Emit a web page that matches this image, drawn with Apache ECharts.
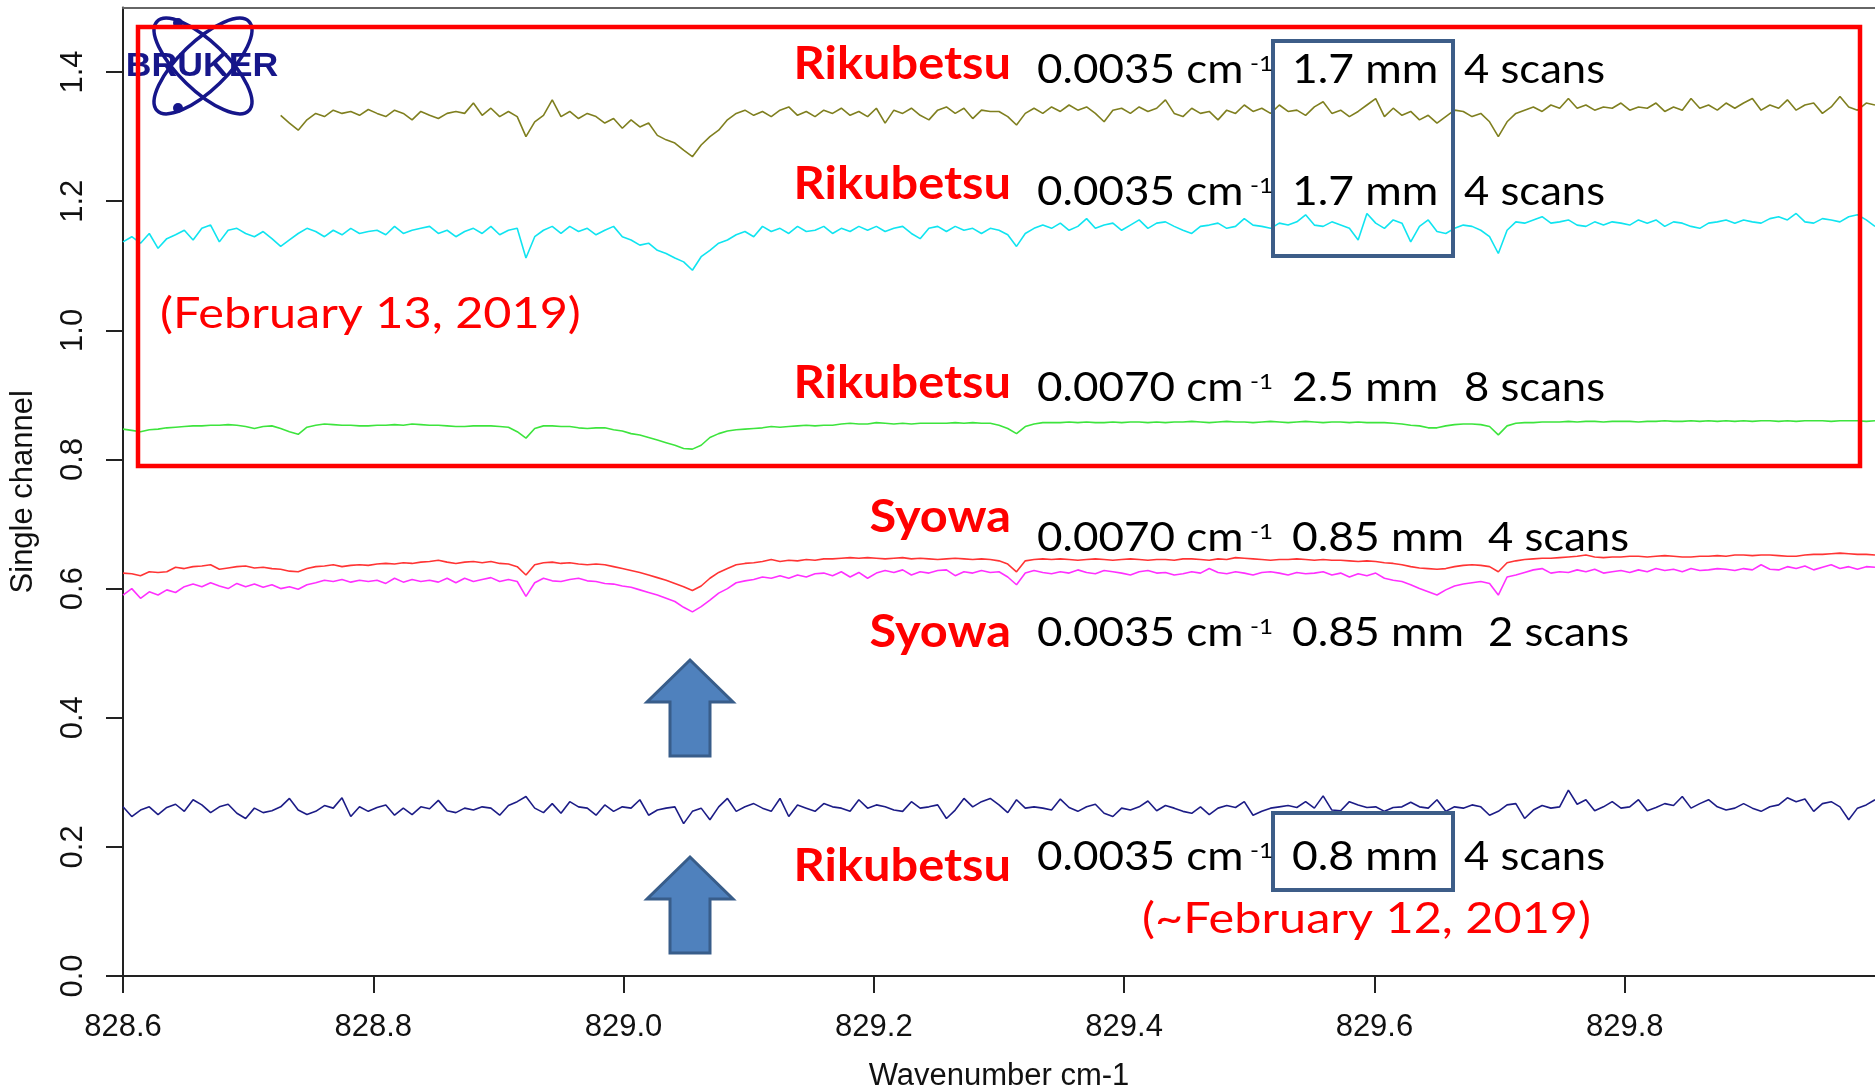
<!DOCTYPE html>
<html>
<head>
<meta charset="utf-8">
<title>Single channel spectra</title>
<script src="https://cdn.jsdelivr.net/npm/echarts@6/dist/echarts.min.js"></script>
<style>
  html, body { margin: 0; padding: 0; background: #fff; }
  #chart { width: 1875px; height: 1086px; }
</style>
</head>
<body>
<div id="chart"></div>
<script>
// sampling grid of the spectra (cm-1)
const waveStart = 828.6
const waveStep = 0.007

const xTicks = [828.6, 828.8, 829.0, 829.2, 829.4, 829.6, 829.8]
const yTicks = [0.0, 0.2, 0.4, 0.6, 0.8, 1.0, 1.2, 1.4]

// Rikubetsu 0.0035 cm-1, 1.7 mm, 4 scans (start hidden behind the logo)
const olive = [
  null, null, null, null, null, null, null, null, null, null,
  null, null, null, null, null, null, null, null,
  1.333, 1.321, 1.310, 1.326, 1.336, 1.331, 1.341, 1.336, 1.339, 1.333,
  1.342, 1.336, 1.331, 1.341, 1.336, 1.326, 1.339, 1.333, 1.328, 1.336,
  1.339, 1.336, 1.352, 1.333, 1.344, 1.331, 1.339, 1.331, 1.300, 1.323,
  1.333, 1.357, 1.331, 1.339, 1.328, 1.336, 1.331, 1.321, 1.328, 1.313,
  1.326, 1.315, 1.321, 1.302, 1.295, 1.290, 1.279, 1.269, 1.287, 1.300,
  1.310, 1.326, 1.336, 1.341, 1.333, 1.339, 1.331, 1.341, 1.346, 1.333,
  1.339, 1.331, 1.341, 1.336, 1.344, 1.333, 1.339, 1.331, 1.344, 1.321,
  1.341, 1.336, 1.344, 1.333, 1.326, 1.341, 1.346, 1.336, 1.344, 1.328,
  1.341, 1.339,
  1.339, 1.331, 1.318, 1.336, 1.344, 1.336, 1.346, 1.339, 1.349, 1.341,
  1.346, 1.336, 1.323, 1.341, 1.344, 1.336, 1.346, 1.339, 1.344, 1.357,
  1.336, 1.331, 1.344, 1.336, 1.339, 1.326, 1.341, 1.336, 1.349, 1.339,
  1.344, 1.336, 1.349, 1.339, 1.341, 1.333, 1.346, 1.354, 1.336, 1.341,
  1.331, 1.339, 1.349, 1.359, 1.331, 1.344, 1.333, 1.339, 1.326, 1.333,
  1.321, 1.331, 1.341, 1.339, 1.331, 1.336, 1.323, 1.300, 1.323, 1.336,
  1.341, 1.346, 1.339, 1.349, 1.344, 1.359, 1.344, 1.349, 1.341, 1.346,
  1.344, 1.352, 1.341, 1.346, 1.344, 1.352, 1.339, 1.346, 1.341, 1.359,
  1.344, 1.349, 1.341, 1.352, 1.344, 1.352, 1.359, 1.341, 1.349, 1.344,
  1.357, 1.341, 1.349, 1.352, 1.336, 1.346, 1.362, 1.346, 1.341, 1.352,
  1.349
]

// Rikubetsu 0.0035 cm-1, 1.7 mm, 4 scans
const cyan = [
  1.137, 1.145, 1.135, 1.150, 1.127, 1.142, 1.148, 1.155, 1.140, 1.158,
  1.163, 1.137, 1.155, 1.158, 1.150, 1.145, 1.153, 1.142, 1.130, 1.140,
  1.150, 1.158, 1.153, 1.145, 1.155, 1.148, 1.158, 1.150, 1.153, 1.155,
  1.148, 1.161, 1.150, 1.155, 1.158, 1.161, 1.150, 1.155, 1.145, 1.153,
  1.158, 1.150, 1.161, 1.148, 1.155, 1.158, 1.112, 1.145, 1.155, 1.161,
  1.150, 1.161, 1.153, 1.158, 1.148, 1.155, 1.161, 1.145, 1.140, 1.132,
  1.135, 1.124, 1.119, 1.112, 1.106, 1.093, 1.114, 1.124, 1.135, 1.140,
  1.148, 1.153, 1.145, 1.161, 1.153, 1.158, 1.150, 1.161, 1.153, 1.155,
  1.161, 1.150, 1.158, 1.153, 1.161, 1.155, 1.161, 1.153, 1.158, 1.161,
  1.150, 1.142, 1.158, 1.161, 1.153, 1.161, 1.155, 1.158, 1.150, 1.158,
  1.155, 1.148, 1.130, 1.150, 1.158, 1.163, 1.158, 1.166, 1.155, 1.161,
  1.173, 1.158, 1.163, 1.166, 1.155, 1.163, 1.171, 1.158, 1.166, 1.168,
  1.161, 1.155, 1.150, 1.161, 1.163, 1.166, 1.158, 1.161, 1.173, 1.163,
  1.161, 1.158, 1.166, 1.163, 1.168, 1.179, 1.163, 1.161, 1.168, 1.163,
  1.158, 1.140, 1.181, 1.166, 1.158, 1.171, 1.166, 1.137, 1.161, 1.171,
  1.153, 1.150, 1.158, 1.163, 1.161, 1.155, 1.145, 1.119, 1.155, 1.168,
  1.166, 1.171, 1.176, 1.166, 1.168, 1.171, 1.163, 1.161, 1.168, 1.163,
  1.168, 1.166, 1.163, 1.171, 1.166, 1.171, 1.161, 1.168, 1.166, 1.161,
  1.158, 1.166, 1.168, 1.171, 1.166, 1.171, 1.168, 1.166, 1.173, 1.176,
  1.171, 1.181, 1.168, 1.166, 1.173, 1.171, 1.168, 1.176, 1.179, 1.171,
  1.161
]

// Rikubetsu 0.0070 cm-1, 2.5 mm, 8 scans
const green = [
  0.847, 0.845, 0.843, 0.846, 0.847, 0.849, 0.850, 0.851, 0.852, 0.852,
  0.853, 0.853, 0.854, 0.853, 0.851, 0.848, 0.851, 0.852, 0.848, 0.843,
  0.839, 0.850, 0.853, 0.855, 0.854, 0.853, 0.853, 0.852, 0.852, 0.853,
  0.853, 0.854, 0.853, 0.855, 0.854, 0.853, 0.853, 0.852, 0.851, 0.851,
  0.852, 0.852, 0.852, 0.851, 0.850, 0.843, 0.833, 0.848, 0.852, 0.852,
  0.851, 0.851, 0.849, 0.848, 0.849, 0.849, 0.846, 0.844, 0.840, 0.838,
  0.834, 0.830, 0.826, 0.822, 0.817, 0.816, 0.822, 0.834, 0.840, 0.844,
  0.846, 0.847, 0.848, 0.849, 0.851, 0.850, 0.851, 0.852, 0.853, 0.852,
  0.853, 0.853, 0.855, 0.856, 0.855, 0.855, 0.857, 0.856, 0.855, 0.856,
  0.855, 0.856, 0.856, 0.856, 0.856, 0.857, 0.856, 0.857, 0.856, 0.856,
  0.853, 0.848, 0.840, 0.851, 0.855, 0.857, 0.857, 0.857, 0.858, 0.857,
  0.858, 0.857, 0.857, 0.858, 0.857, 0.858, 0.858, 0.857, 0.858, 0.857,
  0.858, 0.858, 0.859, 0.858, 0.857, 0.858, 0.859, 0.858, 0.858, 0.857,
  0.858, 0.859, 0.858, 0.857, 0.858, 0.859, 0.858, 0.857, 0.858, 0.858,
  0.857, 0.858, 0.857, 0.857, 0.857, 0.856, 0.855, 0.853, 0.852, 0.849,
  0.849, 0.852, 0.854, 0.855, 0.855, 0.854, 0.851, 0.838, 0.852, 0.856,
  0.857, 0.857, 0.858, 0.858, 0.858, 0.859, 0.858, 0.859, 0.859, 0.858,
  0.859, 0.859, 0.859, 0.858, 0.859, 0.859, 0.860, 0.859, 0.859, 0.860,
  0.859, 0.860, 0.859, 0.860, 0.859, 0.860, 0.859, 0.860, 0.860, 0.859,
  0.860, 0.859, 0.860, 0.860, 0.860, 0.859, 0.860, 0.860, 0.860, 0.859,
  0.860
]

// Syowa 0.0070 cm-1, 0.85 mm, 4 scans
const red = [
  0.624, 0.623, 0.620, 0.626, 0.625, 0.626, 0.633, 0.631, 0.634, 0.635,
  0.637, 0.630, 0.632, 0.634, 0.635, 0.632, 0.633, 0.631, 0.630, 0.627,
  0.626, 0.631, 0.634, 0.635, 0.637, 0.634, 0.636, 0.637, 0.636, 0.638,
  0.639, 0.638, 0.640, 0.639, 0.641, 0.642, 0.644, 0.641, 0.639, 0.641,
  0.642, 0.640, 0.642, 0.639, 0.638, 0.634, 0.621, 0.637, 0.640, 0.641,
  0.639, 0.640, 0.638, 0.637, 0.638, 0.637, 0.634, 0.631, 0.628, 0.625,
  0.621, 0.617, 0.613, 0.608, 0.603, 0.597, 0.604, 0.616, 0.625, 0.631,
  0.637, 0.639, 0.640, 0.642, 0.645, 0.642, 0.644, 0.643, 0.645, 0.644,
  0.646, 0.646, 0.647, 0.648, 0.647, 0.648, 0.647, 0.646, 0.647, 0.648,
  0.646, 0.647, 0.646, 0.645, 0.646, 0.647, 0.646, 0.645, 0.646, 0.645,
  0.643, 0.638, 0.626, 0.643, 0.645, 0.646, 0.645, 0.646, 0.645, 0.644,
  0.645, 0.646, 0.645, 0.644, 0.645, 0.646, 0.645, 0.644, 0.645, 0.645,
  0.644, 0.646, 0.646, 0.645, 0.644, 0.646, 0.645, 0.648, 0.647, 0.646,
  0.645, 0.644, 0.645, 0.645, 0.646, 0.645, 0.644, 0.645, 0.644, 0.644,
  0.643, 0.642, 0.643, 0.642, 0.640, 0.639, 0.637, 0.634, 0.632, 0.631,
  0.630, 0.631, 0.634, 0.636, 0.637, 0.636, 0.634, 0.626, 0.640, 0.643,
  0.645, 0.646, 0.647, 0.647, 0.648, 0.649, 0.650, 0.652, 0.649, 0.648,
  0.649, 0.649, 0.650, 0.650, 0.649, 0.650, 0.651, 0.650, 0.649, 0.649,
  0.650, 0.650, 0.651, 0.650, 0.652, 0.652, 0.651, 0.652, 0.652, 0.651,
  0.650, 0.650, 0.652, 0.653, 0.653, 0.654, 0.655, 0.654, 0.653, 0.653,
  0.652
]

// Syowa 0.0035 cm-1, 0.85 mm, 2 scans
const magenta = [
  0.590, 0.600, 0.585, 0.595, 0.590, 0.598, 0.594, 0.603, 0.607, 0.603,
  0.609, 0.604, 0.600, 0.608, 0.603, 0.607, 0.602, 0.606, 0.600, 0.603,
  0.599, 0.606, 0.609, 0.613, 0.611, 0.614, 0.610, 0.613, 0.611, 0.613,
  0.608, 0.616, 0.610, 0.614, 0.611, 0.613, 0.610, 0.616, 0.609, 0.616,
  0.611, 0.614, 0.617, 0.611, 0.614, 0.611, 0.588, 0.609, 0.616, 0.612,
  0.611, 0.614, 0.616, 0.612, 0.611, 0.608, 0.607, 0.604, 0.602, 0.598,
  0.594, 0.590, 0.585, 0.580, 0.571, 0.564, 0.572, 0.582, 0.593, 0.600,
  0.609, 0.612, 0.614, 0.618, 0.616, 0.620, 0.616, 0.621, 0.618, 0.623,
  0.624, 0.620, 0.626, 0.618, 0.625, 0.616, 0.624, 0.628, 0.625, 0.629,
  0.621, 0.626, 0.624, 0.628, 0.629, 0.620, 0.626, 0.624, 0.628, 0.625,
  0.626, 0.618, 0.606, 0.624, 0.628, 0.625, 0.623, 0.626, 0.624, 0.629,
  0.625, 0.623, 0.628, 0.626, 0.624, 0.621, 0.626, 0.628, 0.624, 0.625,
  0.621, 0.623, 0.626, 0.624, 0.631, 0.625, 0.623, 0.626, 0.624, 0.621,
  0.625, 0.626, 0.624, 0.621, 0.625, 0.623, 0.624, 0.626, 0.621, 0.624,
  0.618, 0.623, 0.620, 0.624, 0.616, 0.613, 0.611, 0.606, 0.600, 0.595,
  0.590, 0.598, 0.604, 0.607, 0.609, 0.611, 0.608, 0.590, 0.618, 0.621,
  0.625, 0.629, 0.631, 0.624, 0.626, 0.625, 0.629, 0.626, 0.630, 0.624,
  0.626, 0.628, 0.625, 0.629, 0.626, 0.631, 0.628, 0.630, 0.626, 0.631,
  0.628, 0.629, 0.631, 0.630, 0.628, 0.631, 0.629, 0.637, 0.630, 0.629,
  0.634, 0.631, 0.635, 0.629, 0.633, 0.637, 0.631, 0.634, 0.630, 0.634,
  0.633
]

// Rikubetsu 0.0035 cm-1, 0.8 mm, 4 scans (~February 12, 2019)
const navy = [
  0.262, 0.247, 0.257, 0.262, 0.250, 0.261, 0.266, 0.255, 0.273, 0.265,
  0.253, 0.262, 0.266, 0.252, 0.244, 0.260, 0.253, 0.256, 0.262, 0.275,
  0.257, 0.250, 0.255, 0.264, 0.260, 0.276, 0.247, 0.262, 0.255, 0.261,
  0.265, 0.249, 0.260, 0.250, 0.262, 0.259, 0.272, 0.256, 0.253, 0.260,
  0.257, 0.262, 0.260, 0.249, 0.264, 0.270, 0.278, 0.260, 0.253, 0.267,
  0.252, 0.270, 0.262, 0.260, 0.249, 0.265, 0.255, 0.262, 0.260, 0.273,
  0.249, 0.257, 0.260, 0.262, 0.236, 0.255, 0.260, 0.242, 0.262, 0.275,
  0.255, 0.262, 0.267, 0.260, 0.255, 0.275, 0.247, 0.265, 0.260, 0.255,
  0.267, 0.262, 0.260, 0.255, 0.273, 0.260, 0.265, 0.262, 0.257, 0.255,
  0.270, 0.260, 0.262, 0.265, 0.244, 0.257, 0.275, 0.262, 0.270, 0.275,
  0.265, 0.253, 0.273, 0.260, 0.262, 0.260, 0.257, 0.274, 0.261, 0.255,
  0.262, 0.266, 0.252, 0.247, 0.260, 0.257, 0.262, 0.271, 0.256, 0.264,
  0.260, 0.255, 0.252, 0.262, 0.250, 0.260, 0.264, 0.261, 0.270, 0.249,
  0.255, 0.260, 0.262, 0.264, 0.261, 0.270, 0.260, 0.279, 0.257, 0.256,
  0.270, 0.265, 0.261, 0.262, 0.255, 0.261, 0.262, 0.269, 0.262, 0.260,
  0.273, 0.255, 0.262, 0.260, 0.265, 0.262, 0.249, 0.255, 0.265, 0.267,
  0.244, 0.257, 0.264, 0.260, 0.262, 0.288, 0.266, 0.273, 0.256, 0.262,
  0.270, 0.260, 0.262, 0.273, 0.256, 0.261, 0.267, 0.264, 0.278, 0.260,
  0.267, 0.273, 0.262, 0.257, 0.260, 0.267, 0.260, 0.255, 0.262, 0.265,
  0.276, 0.270, 0.274, 0.255, 0.267, 0.270, 0.262, 0.242, 0.260, 0.265,
  0.273
]

const toPairs = vals => vals.map((v, i) => [+(waveStart + i * waveStep).toFixed(3), v])

const axisColor = '#222'
const axisFont = '"Liberation Sans", Arial, sans-serif'
const noteFont = 'Lato, "Open Sans", sans-serif'

const chart = echarts.init(document.getElementById('chart'))

const lineSeries = (name, vals, color) => ({
  name,
  type: 'line',
  data: toPairs(vals),
  showSymbol: false,
  silent: true,
  connectNulls: false,
  lineStyle: { color, width: 1.6 },
  itemStyle: { color }
})

// text helpers for the slide annotations (widened a bit, the slide font is stretched)
const txt = (text, x, y, size, color, opts = {}) => ({
  type: 'text',
  x, y, z: 110,
  scaleX: opts.sx || 1,
  silent: true,
  style: {
    text,
    fill: color,
    font: `${opts.weight || 'normal'} ${size}px ${noteFont}`,
    align: opts.align || 'left',
    verticalAlign: 'middle'
  }
})

const rows = [
  { site: 'Rikubetsu', siteY: 64, y: 70, res: '0.0035', ap: '1.7 mm', scans: '4 scans', scansX: 1464 },
  { site: 'Rikubetsu', siteY: 184, y: 192, res: '0.0035', ap: '1.7 mm', scans: '4 scans', scansX: 1464 },
  { site: 'Rikubetsu', siteY: 383, y: 388, res: '0.0070', ap: '2.5 mm', scans: '8 scans', scansX: 1464 },
  { site: 'Syowa', siteY: 517, y: 538, res: '0.0070', ap: '0.85 mm', scans: '4 scans', scansX: 1488 },
  { site: 'Syowa', siteY: 632, y: 633, res: '0.0035', ap: '0.85 mm', scans: '2 scans', scansX: 1488 },
  { site: 'Rikubetsu', siteY: 866, y: 857, res: '0.0035', ap: '0.8 mm', scans: '4 scans', scansX: 1464 }
]

const rowTexts = []
rows.forEach(r => {
  rowTexts.push(txt(r.site, 1011, r.siteY, 46, '#ff0000', { weight: 'bold', align: 'right', sx: 1.06 }))
  rowTexts.push(txt(r.res + ' cm', 1037, r.y, 40, '#000', { sx: 1.1 }))
  rowTexts.push(txt('-1', 1250, r.y - 6, 22, '#000', { sx: 1.1 }))
  rowTexts.push(txt(r.ap, 1292, r.y, 40, '#000', { sx: 1.11 }))
  rowTexts.push(txt(r.scans, r.scansX, r.y, 40, '#000', { sx: 1.09 }))
})

const arrow = tipY => ({
  type: 'polygon',
  z: 105,
  silent: true,
  shape: {
    points: [
      [690, tipY], [733, tipY + 42], [710, tipY + 42], [710, tipY + 96],
      [670, tipY + 96], [670, tipY + 42], [647, tipY + 42]
    ]
  },
  style: { fill: '#4f81bd', stroke: '#385d8a', lineWidth: 3 }
})

const logo = {
  type: 'group',
  z: 104,
  children: [
    { type: 'ellipse', x: 203, y: 66, rotation: 0.77, shape: { cx: 0, cy: 0, rx: 64, ry: 24 }, style: { fill: 'none', stroke: '#16168a', lineWidth: 3.5 } },
    { type: 'ellipse', x: 203, y: 66, rotation: -0.77, shape: { cx: 0, cy: 0, rx: 64, ry: 24 }, style: { fill: 'none', stroke: '#16168a', lineWidth: 3.5 } },
    { type: 'circle', shape: { cx: 178, cy: 23, r: 5 }, style: { fill: '#16168a' } },
    { type: 'circle', shape: { cx: 178, cy: 108, r: 5 }, style: { fill: '#16168a' } },
    { type: 'text', x: 202, y: 67, scaleX: 1.08, style: { text: 'BRUKER', fill: '#16168a', font: `bold 33px ${axisFont}`, align: 'center', verticalAlign: 'middle' } }
  ]
}

const option = {
  backgroundColor: '#fff',
  animation: false,
  grid: {
    left: 123,
    right: 0,
    top: 7.5,
    bottom: 110,
    containLabel: false,
    outerBoundsMode: 'none'
  },
  xAxis: [
    {
      type: 'value',
      min: 828.6,
      max: 830.0,
      axisLine: { onZero: false, lineStyle: { color: axisColor, width: 2 } },
      axisTick: { length: 17, customValues: xTicks, lineStyle: { color: axisColor, width: 2 } },
      axisLabel: {
        customValues: xTicks,
        formatter: v => v.toFixed(1),
        margin: 36,
        color: '#111',
        fontSize: 31,
        fontFamily: axisFont
      },
      splitLine: { show: false },
      name: 'Wavenumber cm-1',
      nameLocation: 'middle',
      nameGap: 85,
      nameTextStyle: { color: '#111', fontSize: 31, fontFamily: axisFont }
    },
    {
      // top frame line
      type: 'value',
      position: 'top',
      min: 828.6,
      max: 830.0,
      axisLine: { onZero: false, lineStyle: { color: '#666', width: 2 } },
      axisTick: { show: false },
      axisLabel: { show: false },
      splitLine: { show: false }
    }
  ],
  yAxis: {
    type: 'value',
    min: 0,
    max: 1.5,
    axisLine: { show: true, onZero: false, lineStyle: { color: axisColor, width: 2 } },
    axisTick: { show: true, length: 17, customValues: yTicks, lineStyle: { color: axisColor, width: 2 } },
    axisLabel: {
      customValues: yTicks,
      formatter: v => v.toFixed(1),
      rotate: 90,
      margin: 34,
      color: '#111',
      fontSize: 31,
      fontFamily: axisFont
    },
    splitLine: { show: false },
    name: 'Single channel',
    nameLocation: 'middle',
    nameRotate: 90,
    nameGap: 84,
    nameTextStyle: { color: '#111', fontSize: 31, fontFamily: axisFont }
  },
  series: [
    lineSeries('Rikubetsu 1.7 mm (a)', olive, '#7f7f1f'),
    lineSeries('Rikubetsu 1.7 mm (b)', cyan, '#10e4f0'),
    lineSeries('Rikubetsu 2.5 mm', green, '#3de43d'),
    lineSeries('Syowa 0.0070', red, '#ff3434'),
    lineSeries('Syowa 0.0035', magenta, '#ff30ff'),
    lineSeries('Rikubetsu 0.8 mm', navy, '#1c1c86')
  ],
  graphic: [
    logo,
    // date group frame
    { type: 'rect', z: 106, silent: true, shape: { x: 138, y: 27, width: 1722, height: 439 }, style: { fill: 'none', stroke: '#ff0000', lineWidth: 4.5 } },
    // aperture boxes
    { type: 'rect', z: 106, silent: true, shape: { x: 1273, y: 41, width: 180, height: 215 }, style: { fill: 'none', stroke: '#3d5d88', lineWidth: 4 } },
    { type: 'rect', z: 106, silent: true, shape: { x: 1273, y: 813, width: 180, height: 77 }, style: { fill: 'none', stroke: '#3d5d88', lineWidth: 4 } },
    arrow(660),
    arrow(857),
    txt('(February 13, 2019)', 160, 314, 43, '#ff0000', { sx: 1.13 }),
    txt('(~February 12, 2019)', 1142, 919, 43, '#ff0000', { sx: 1.13 }),
    ...rowTexts
  ]
}

chart.setOption(option)

window.addEventListener('resize', () => {
  chart.resize()
})
</script>
</body>
</html>
